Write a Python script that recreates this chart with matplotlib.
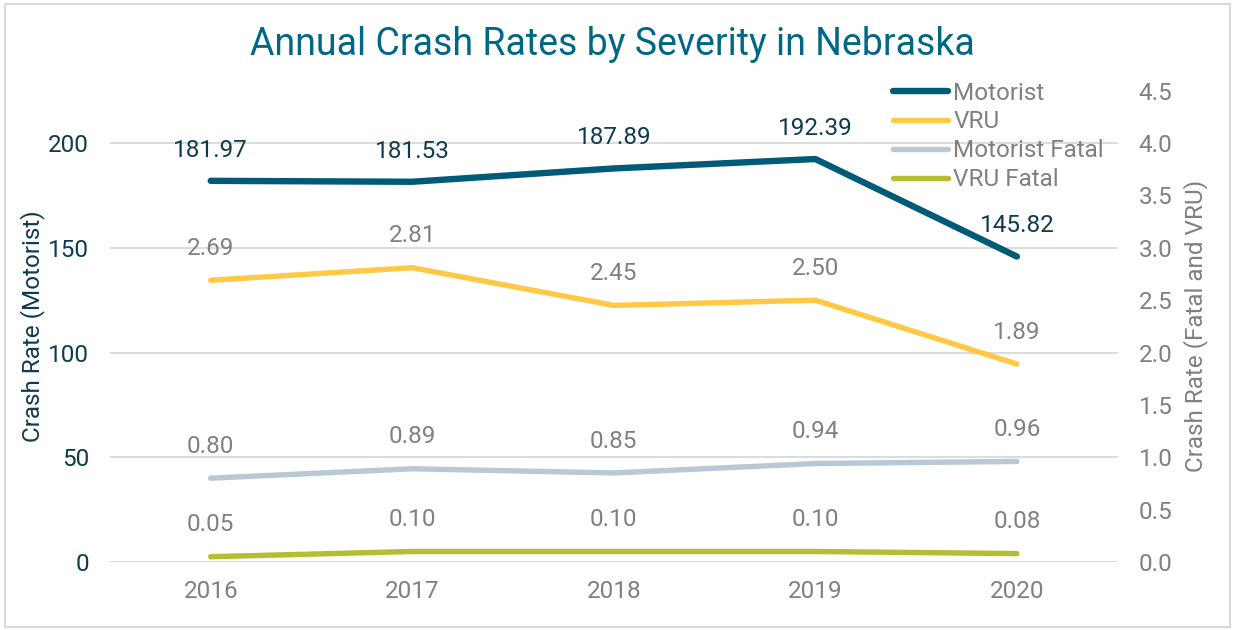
import matplotlib.pyplot as plt
from matplotlib.patches import Rectangle

plt.rcParams['font.family'] = ['Roboto', 'DejaVu Sans']

years = ['2016', '2017', '2018', '2019', '2020']
motorist = [181.97, 181.53, 187.89, 192.39, 145.82]
vru = [2.69, 2.81, 2.45, 2.50, 1.89]
motorist_fatal = [0.80, 0.89, 0.85, 0.94, 0.96]
vru_fatal = [0.05, 0.10, 0.10, 0.10, 0.08]

c_mot = '#005a78'
c_vru = '#ffc845'
c_mfat = '#b9c8d4'
c_vfat = '#b5bd32'
c_dark = '#0f3b4c'
c_gray = '#808080'
fs = 17.5

fig = plt.figure(figsize=(12.35, 6.3), dpi=100)
ax = fig.add_axes([0.089, 0.108, 0.816, 0.748])
ax2 = ax.twinx()

x = list(range(len(years)))

# eje izquierdo: motorist
l1, = ax.plot(x, motorist, color=c_mot, lw=4.6, solid_capstyle='round', label='Motorist', zorder=3)
for xi, v in zip(x, motorist):
    ax.annotate(f'{v:.2f}', (xi, v), xytext=(0, 22), textcoords='offset points',
                ha='center', va='center', fontsize=fs, color=c_dark)

# eje derecho: fatal y VRU
l2, = ax2.plot(x, vru, color=c_vru, lw=3.9, solid_capstyle='round', label='VRU')
l3, = ax2.plot(x, motorist_fatal, color=c_mfat, lw=3.9, solid_capstyle='round', label='Motorist Fatal')
l4, = ax2.plot(x, vru_fatal, color=c_vfat, lw=3.9, solid_capstyle='round', label='VRU Fatal')
for serie in (vru, motorist_fatal, vru_fatal):
    for xi, v in zip(x, serie):
        ax2.annotate(f'{v:.2f}', (xi, v), xytext=(0, 23), textcoords='offset points',
                     ha='center', va='center', fontsize=fs, color=c_gray)

ax.set_xlim(-0.5, 4.5)
ax.set_ylim(0, 225)
ax2.set_ylim(0, 4.5)
ax.set_yticks([0, 50, 100, 150, 200])
ax2.set_yticks([i * 0.5 for i in range(10)])
ax2.set_yticklabels([f'{i * 0.5:.1f}' for i in range(10)])
ax.set_xticks(x)
ax.set_xticklabels(years)

ax.grid(axis='y', color='#d9d9d9', lw=1.3)
ax.set_axisbelow(True)
for a in (ax, ax2):
    for s in a.spines.values():
        s.set_visible(False)
ax.tick_params(axis='y', length=0, pad=15, labelsize=fs, labelcolor=c_dark)
ax.tick_params(axis='x', length=0, pad=13, labelsize=fs, labelcolor=c_gray)
ax2.tick_params(axis='y', length=0, pad=15, labelsize=fs, labelcolor=c_gray)

ax.set_ylabel('Crash Rate (Motorist)', fontsize=fs, color=c_dark, labelpad=2)
ax2.set_ylabel('Crash Rate (Fatal and VRU)', fontsize=fs, color=c_gray, labelpad=8)

fig.text(0.496, 0.93, 'Annual Crash Rates by Severity in Nebraska', ha='center', va='center',
         fontsize=27, color='#006884')

leg = ax2.legend(handles=[l1, l2, l3, l4], loc='upper right', bbox_to_anchor=(0.996, 1.04),
                 frameon=False, fontsize=fs, labelcolor=c_gray, handlelength=2.3,
                 handletextpad=0.2, labelspacing=0.24, borderaxespad=0)

fig.patches.append(Rectangle((0.004, 0.004), 0.992, 0.99, transform=fig.transFigure,
                             fill=False, edgecolor='#d9d9d9', lw=1.5))

fig.savefig('out.png', dpi=100)
